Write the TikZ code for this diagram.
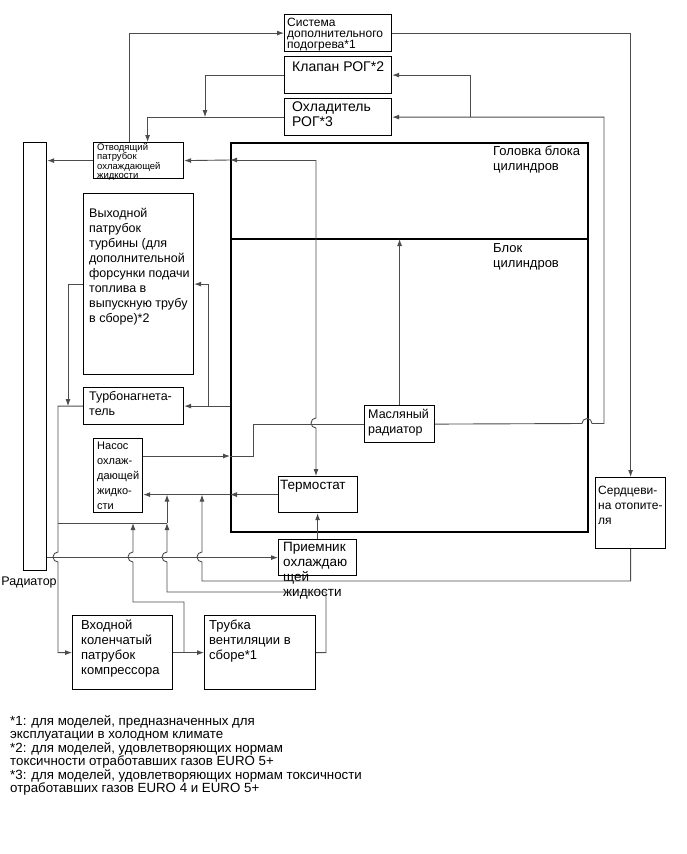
\documentclass[tikz,border=0pt]{standalone}
\usepackage{fontspec}
\setmainfont{Liberation Sans}
\usetikzlibrary{arrows.meta}
\newcommand{\fsz}[2]{\fontsize{#1}{#2}\selectfont}

\begin{document}
\begin{tikzpicture}[x=1pt,y=-1pt,
    blok/.style={draw=black, line width=1.2pt, anchor=north west, inner sep=0pt},
    txt/.style={anchor=north west, align=left, inner sep=0pt},
    pipe/.style={draw=black!70, line width=0.9pt},
    flow/.style={pipe, -{Latex[length=7pt,width=5pt]}}]
    \useasboundingbox (0,0) rectangle (687,854);

    % boxes
    \node[blok, line width=1.8pt, minimum width=357pt, minimum height=389pt] (eng) at (230,142) {};
    \node[blok, minimum width=107pt, minimum height=37pt] (sys) at (284,14) {};
    \node[blok, minimum width=107pt, minimum height=37pt] (klap) at (284,56) {};
    \node[blok, minimum width=107pt, minimum height=37pt] (ohl) at (284,98) {};
    \node[blok, minimum width=90pt, minimum height=36pt] (otv) at (93,142) {};
    \node[blok, minimum width=23pt, minimum height=428pt] (rad) at (23,142) {};
    \node[blok, minimum width=110pt, minimum height=181pt] (vyh) at (83,193) {};
    \node[blok, minimum width=100pt, minimum height=37pt] (turbo) at (83,387) {};
    \node[blok, minimum width=49pt, minimum height=74pt] (nasos) at (93,438) {};
    \node[blok, minimum width=79pt, minimum height=36pt] (termo) at (278,476) {};
    \node[blok, minimum width=70pt, minimum height=37pt] (masl) at (364,405) {};
    \node[blok, minimum width=78pt, minimum height=36pt] (prim) at (278,539) {};
    \node[blok, minimum width=70pt, minimum height=71pt] (serd) at (595,477) {};
    \node[blok, minimum width=100pt, minimum height=74pt] (vhod) at (72,615) {};
    \node[blok, minimum width=111pt, minimum height=74pt] (trub) at (204,615) {};
    \coordinate (dl) at (eng.west |- 0,239);
    \draw[line width=1.4pt] (dl) -- (dl -| eng.east);

    % texts
    \node[txt, font=\fsz{12}{11}] (sys-t) at ([shift={(3,3.5)}]sys.north west) {Система\\дополнительного\\подогрева*1};
    \node[txt, font=\fsz{14}{15}] (klap-t) at ([shift={(8,6)}]klap.north west) {Клапан РОГ*2};
    \node[txt, font=\fsz{14}{15}] (ohl-t) at ([shift={(8,4)}]ohl.north west) {Охладитель\\РОГ*3};
    \node[txt, font=\fsz{9.5}{9}] (otv-t) at ([shift={(4,1.5)}]otv.north west) {Отводящий\\патрубок\\охлаждающей\\жидкости};
    \node[txt, font=\fsz{13}{15}] (head-t) at (493,146) {Головка блока\\цилиндров};
    \node[txt, font=\fsz{13}{15}] (blok-t) at (493,243) {Блок\\цилиндров};
    \node[txt, font=\fsz{12.5}{15}] (vyh-t) at ([shift={(6,15)}]vyh.north west) {Выходной\\патрубок\\турбины (для\\дополнительной\\форсунки подачи\\топлива в\\выпускную трубу\\в сборе)*2};
    \node[txt, font=\fsz{12.5}{15}] (turbo-t) at ([shift={(6,4.5)}]turbo.north west) {Турбонагнета-\\тель};
    \node[txt, font=\fsz{11}{15}] (nasos-t) at ([shift={(4,4)}]nasos.north west) {Насос\\охлаж-\\дающей\\жидко-\\сти};
    \node[txt, font=\fsz{13.5}{15}] (termo-t) at ([shift={(2,4)}]termo.north west) {Термостат};
    \node[txt, font=\fsz{12.5}{15}] (masl-t) at ([shift={(4,4.5)}]masl.north west) {Масляный\\радиатор};
    \node[txt, font=\fsz{13.5}{15}] (prim-t) at ([shift={(5,3)}]prim.north west) {Приемник\\охлаждаю\\щей\\жидкости};
    \node[txt, font=\fsz{12}{15}] (serd-t) at ([shift={(3,8.5)}]serd.north west) {Сердцеви-\\на отопите-\\ля};
    \node[txt, font=\fsz{13}{15}] (vhod-t) at ([shift={(9,5)}]vhod.north west) {Входной\\коленчатый\\патрубок\\компрессора};
    \node[txt, font=\fsz{13}{15}] (trub-t) at ([shift={(5,4.5)}]trub.north west) {Трубка\\вентиляции в\\сборе*1};
    \node[font=\fsz{12.5}{15}] (rad-t) at (29,582) {Радиатор};
    \node[txt, font=\fsz{13.3}{13.5}] (notes) at (10,715) {*1: для моделей, предназначенных для\\эксплуатации в холодном климате\\*2: для моделей, удовлетворяющих нормам\\токсичности отработавших газов EURO 5+\\*3: для моделей, удовлетворяющих нормам токсичности\\отработавших газов EURO 4 и EURO 5+};

    % head outlet
    \coordinate (hd) at (316,160);
    \draw[flow] (hd) -- (hd -| eng.west);
    \draw[flow] (hd -| eng.west) -- (otv.east);
    \draw[flow] (hd) -- (316,418) arc[start angle=270, end angle=90, radius=5] -- (termo.north -| hd);
    \draw[flow] (otv.west) -- (otv.west -| rad.east);
    \draw[flow] ([xshift=-9pt]otv.north) |- (sys.west);
    \draw[flow] (sys.east) -| (serd.north);

    % EGR circuit
    \coordinate (egr) at (604,423.5);
    \draw[flow] (masl.east) -- (582,423.5) arc[start angle=180, end angle=360, radius=5] -- (egr) |- (ohl.east);
    \draw[flow] (ohl.east -| 470,0) |- (klap.east);
    \draw[flow] (klap.west) -| (ohl.west -| 205,0);
    \draw[flow] (ohl.west) -| ([xshift=9pt]otv.north);

    % oil cooler, pump
    \draw[flow] (masl.north) -- (masl.north |- dl);
    \draw[flow] (nasos.east |- 0,456) -- (eng.west |- 0,456);
    \draw[pipe] (eng.west |- 0,456) -- (253,456) |- (masl.west);
    \draw[flow] (termo.west) -- (termo.west -| eng.west);
    \draw[flow] (termo.west -| eng.west) -- (termo.west -| nasos.east);
    \draw[flow] (prim.north) -- (prim.north |- termo.south);

    % turbo
    \draw[flow] (turbo.east -| eng.west) -- (turbo.east);
    \draw[flow] (turbo.east -| 208,0) |- (vyh.east);
    \draw[flow] (vyh.west) -| (turbo.west -| 68,0);
    \draw[flow] (turbo.west) -- (turbo.west -| 58,0) -- (58,552) arc[start angle=270, end angle=90, radius=5] |- (vhod.west);
    \draw[pipe] (58,523) -- (167,523);

    % lower circuit
    \draw[flow] (rad.east |- prim.west) -- (prim.west);
    \draw[flow] (trub.east) -- (trub.east -| 326,0) -- (326,592) -- (167,592) -- (167,562) arc[start angle=90, end angle=270, radius=5] -- (167,523);
    \draw[flow] (167,523) -- (termo.west -| 167,0);
    \draw[flow] (vhod.east) -- (trub.west);
    \draw[flow] (vhod.east -| 184,0) -- (184,602) -- (133,602) -- (133,562) arc[start angle=90, end angle=270, radius=5] -- (133,523);
    \draw[flow] (serd.south) -- (serd.south |- 0,581) -- (202,581) -- (202,562) arc[start angle=90, end angle=270, radius=5] -- (termo.west -| 202,0);
\end{tikzpicture}
\end{document}
